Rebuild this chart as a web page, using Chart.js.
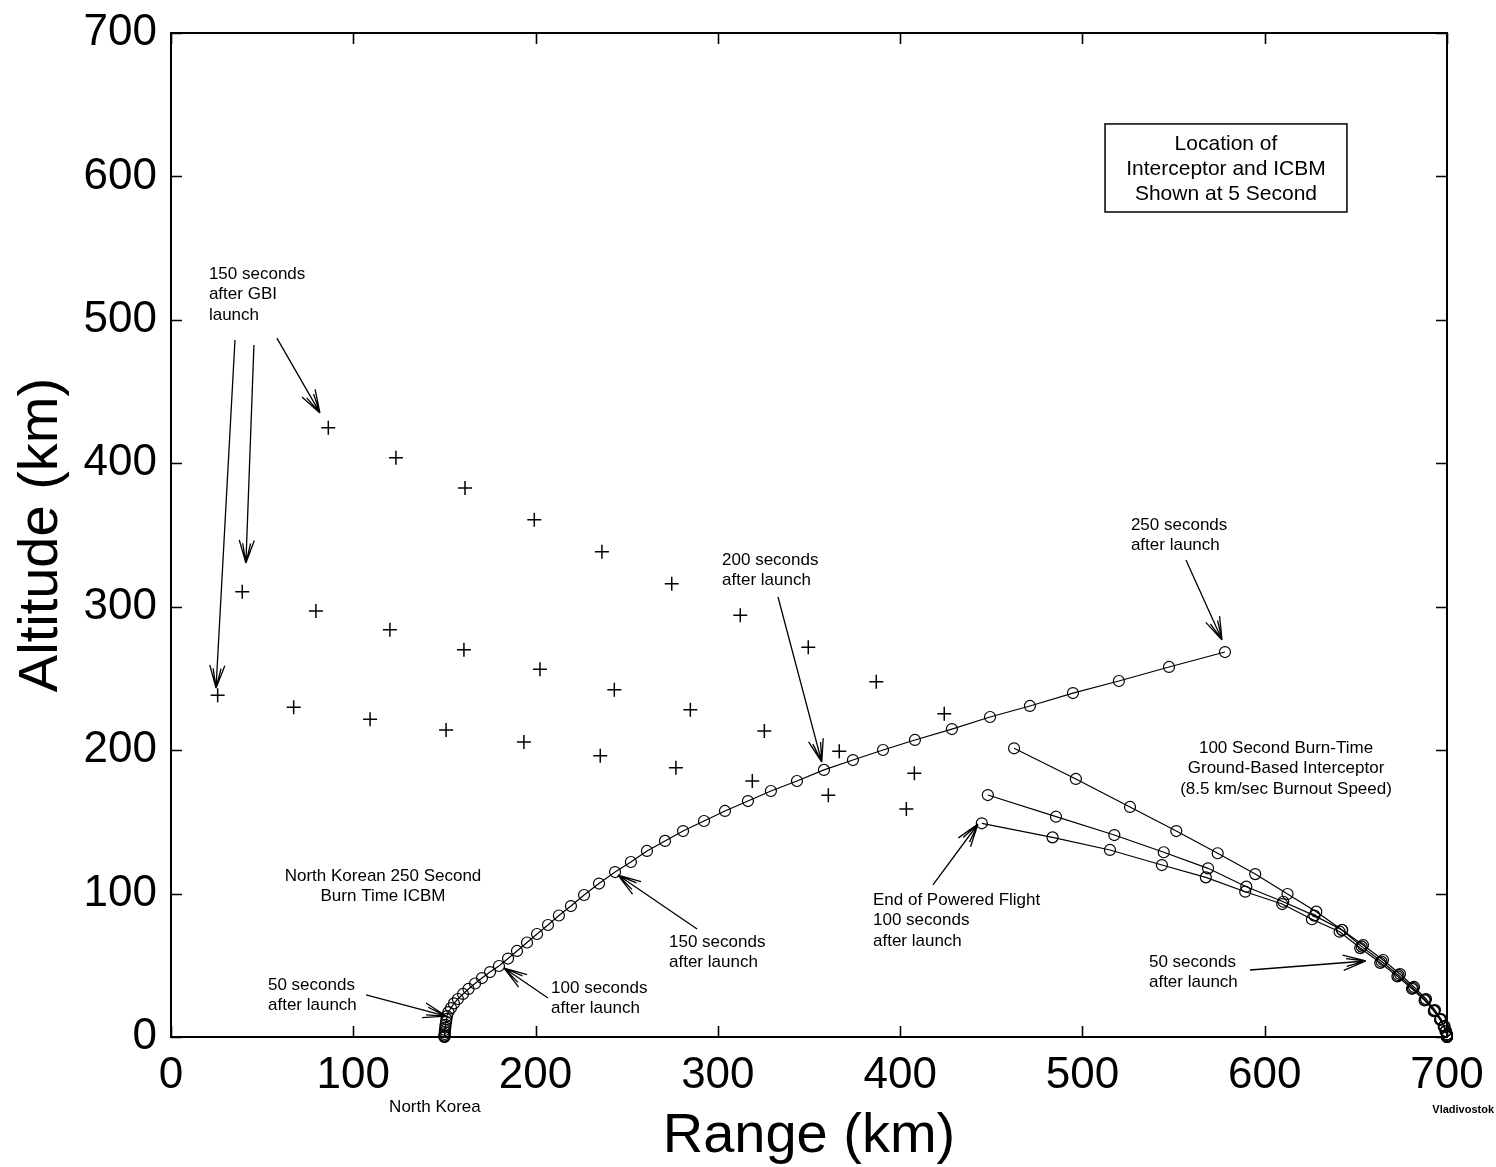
<!DOCTYPE html>
<html>
<head>
<meta charset="utf-8">
<script src="https://cdn.jsdelivr.net/npm/chart.js@4/dist/chart.umd.min.js"></script>
<style>
  html,body{margin:0;padding:0;background:#fff;}
  #wrap{width:1496px;height:1167px;position:relative;}
</style>
</head>
<body>
<div id="wrap"><canvas id="c" width="1496" height="1167"></canvas></div>
<script>
// ---------- DATA ----------
// North Korean ICBM, one point every 5 s from launch (0 s) to burnout (250 s)
const icbmX = [150.0,150.0,150.05,150.1,150.2,150.3,150.5,150.6,150.9,151.1,151.4,
  152.2,153.6,155.2,157.4,160.2,163.2,166.8,170.6,175.0,179.9,
  184.9,189.8,195.3,200.8,206.8,212.8,219.4,226.6,234.8,243.6,
  252.3,261.1,271.0,280.9,292.4,303.9,316.5,329.1,343.4,358.2,
  374.1,390.6,408.1,428.4,449.3,471.2,494.8,520.0,547.5,578.2];
const icbmY = [0,0.3,1.0,2.1,3.5,4.9,6.6,8.4,10.5,12.5,14.6,
  17.4,20.2,23.4,26.5,30.0,33.5,37.3,41.1,45.3,49.5,
  54.7,60.0,65.9,71.8,78.1,84.7,91.3,99.0,107.0,115.0,
  122.0,129.7,136.7,143.6,150.6,157.6,164.5,171.5,178.5,186.2,
  193.1,200.1,207.1,214.7,223.1,230.8,239.8,248.2,258.0,268.4];

// Ground-based interceptors (100 s burn), every 5 s from launch to burnout
const gbi1X = [700.0,700.0,700.0,699.4,698.6,696.7,693.4,688.5,681.9,674.2,664.9,653.9,642.5,628.3,612.5,594.8,574.2,551.5,526.1,496.4,462.5];
const gbi1Y = [0,0.5,1.7,4.2,7.7,12.5,18.8,26.5,34.9,43.9,53.7,64.1,74.6,87.4,99.7,113.6,128.1,143.6,160.4,179.9,201.3];
const gbi2X = [700.0,700.0,700.0,699.3,698.4,696.4,693.0,688.0,681.3,673.4,664.1,653.2,642.4,627.3,610.2,589.9,568.9,544.6,517.5,485.5,448.1];
const gbi2Y = [0,0.5,1.7,4.1,7.5,12.2,18.4,26.0,34.2,43.1,52.6,63.0,74.6,84.6,94.3,104.8,117.6,128.8,140.8,153.6,168.7];
const gbi3X = [700.0,700.0,700.0,699.2,698.2,696.2,692.8,687.7,680.8,672.8,663.4,652.4,641.1,625.9,609.6,589.3,567.7,543.6,515.1,483.6,444.8];
const gbi3Y = [0,0.5,1.6,4.0,7.3,12.0,18.0,25.5,33.6,42.3,51.7,62.0,73.4,82.1,92.7,101.3,111.3,119.9,130.4,139.2,149.0];

// "+" markers: interceptor positions after burnout (three rows)
const plusAX = [86.3,123.4,161.3,199.3,236.4,274.7,312.3,349.6,386.9,424.2];
const plusAY = [424.8,403.9,382.8,360.7,338.4,316.0,294.0,271.7,247.7,225.4];
const plusBX = [39.1,79.5,120.1,160.7,202.4,243.2,284.9,325.5,366.6,407.8];
const plusBY = [310.5,297.0,284.0,270.0,256.4,242.1,228.2,213.3,199.2,183.9];
const plusCX = [25.6,67.3,109.2,150.9,193.6,235.5,277.0,318.9,360.6,403.4];
const plusCY = [238.2,229.9,221.5,214.0,205.7,196.1,187.8,178.5,168.5,159.0];

// axis
const xTicks = [0,100,200,300,400,500,600,700];
const yTicks = [0,100,200,300,400,500,600,700];
const xTitle = 'Range (km)';
const yTitle = 'Altitude (km)';

// annotation texts (anchor in data units)
const noteTexts = [
  {lines:['150 seconds','after GBI','launch'], x:20.8, y:532.0, align:'left'},
  {lines:['250 seconds','after launch'], x:526.6, y:357.0, align:'left'},
  {lines:['200 seconds','after launch'], x:302.3, y:332.6, align:'left'},
  {lines:['100 Second Burn-Time','Ground-Based Interceptor','(8.5 km/sec Burnout Speed)'], x:611.7, y:201.5, align:'center'},
  {lines:['North Korean 250 Second','Burn Time ICBM'], x:116.3, y:112.2, align:'center'},
  {lines:['End of Powered Flight','100 seconds','after launch'], x:385.1, y:95.5, align:'left'},
  {lines:['150 seconds','after launch'], x:273.2, y:66.2, align:'left'},
  {lines:['50 seconds','after launch'], x:536.5, y:52.3, align:'left'},
  {lines:['50 seconds','after launch'], x:53.2, y:36.3, align:'left'},
  {lines:['100 seconds','after launch'], x:208.5, y:34.2, align:'left'},
  {lines:['North Korea'], x:144.8, y:-48.8, align:'center'}
];
const boxText = {lines:['Location of','Interceptor and ICBM','Shown at 5 Second'], x1:512.4, y1:636.6, x2:645.1, y2:575.2};
const placeName = {text:'Vladivostok', x:725.8, y:-50.9};
// arrows: from (x1,y1) to head at (x2,y2), data units
const arrows = [
  {x1:35.1, y1:486.0, x2:24.7, y2:243.3},
  {x1:45.5, y1:482.5, x2:41.1, y2:330.5},
  {x1:58.1, y1:487.3, x2:81.7, y2:435.1},
  {x1:556.8, y1:332.6, x2:576.6, y2:276.8},
  {x1:333.0, y1:306.8, x2:357.0, y2:191.7},
  {x1:418.0, y1:106.0, x2:442.7, y2:148.5},
  {x1:288.6, y1:75.3, x2:245.2, y2:112.9},
  {x1:591.9, y1:46.7, x2:655.5, y2:53.0},
  {x1:107.0, y1:29.3, x2:150.9, y2:14.6},
  {x1:206.8, y1:27.2, x2:182.7, y2:48.1}
];

// ---------- build ----------
const pts = (xs, ys) => xs.map((v, i) => ({x: v, y: ys[i]}));
const SANS = "'Liberation Sans', Arial, Helvetica, sans-serif";

const trajStyle = {
  type:'scatter', showLine:true, borderColor:'#000', borderWidth:1.2,
  pointStyle:'circle', pointRadius:5.5, pointBorderWidth:1.2,
  pointBorderColor:'#000', pointBackgroundColor:'rgba(0,0,0,0)', clip:false
};
const plusStyle = {
  type:'scatter', showLine:false, pointStyle:'cross', pointRadius:7,
  pointBorderWidth:1.5, pointBorderColor:'#000', borderColor:'#000', clip:false
};

const noPad = s => { s.paddingTop = 0; s.paddingBottom = 0; s.paddingLeft = 0; s.paddingRight = 0; };

const overlay = {
  id:'overlay',
  afterDraw(chart){
    const {ctx, chartArea:a, scales:{x, y}} = chart;
    const X = v => x.getPixelForValue(v), Y = v => y.getPixelForValue(v);
    ctx.save();
    // frame
    ctx.strokeStyle = '#000';
    ctx.lineWidth = 2;
    ctx.strokeRect(a.left, a.top, a.right - a.left, a.bottom - a.top);
    // inward ticks on all four sides
    ctx.lineWidth = 1.6;
    ctx.beginPath();
    xTicks.forEach(t => {
      const p = Math.round(X(t)) + 0.5;
      ctx.moveTo(p, a.bottom); ctx.lineTo(p, a.bottom - 11);
      ctx.moveTo(p, a.top); ctx.lineTo(p, a.top + 11);
    });
    yTicks.forEach(t => {
      const p = Math.round(Y(t)) + 0.5;
      ctx.moveTo(a.left, p); ctx.lineTo(a.left + 11, p);
      ctx.moveTo(a.right, p); ctx.lineTo(a.right - 11, p);
    });
    ctx.stroke();

    // texts
    ctx.fillStyle = '#000';
    ctx.textBaseline = 'middle';
    ctx.font = '17px ' + SANS;
    noteTexts.forEach(n => {
      ctx.textAlign = n.align;
      n.lines.forEach((l, i) => ctx.fillText(l, X(n.x), Y(n.y) + i * 20.5));
    });
    // box
    const bx1 = X(boxText.x1), by1 = Y(boxText.y1), bx2 = X(boxText.x2), by2 = Y(boxText.y2);
    ctx.lineWidth = 1.5;
    ctx.strokeRect(bx1, by1, bx2 - bx1, by2 - by1);
    ctx.font = '21px ' + SANS;
    ctx.textAlign = 'center';
    boxText.lines.forEach((l, i) => ctx.fillText(l, (bx1 + bx2) / 2, by1 + 20 + i * 25));
    // place name
    ctx.font = 'bold 11px ' + SANS;
    ctx.textAlign = 'right';
    ctx.fillText(placeName.text, X(placeName.x), Y(placeName.y));

    // arrows
    ctx.lineWidth = 1.3;
    arrows.forEach(ar => {
      const x1 = X(ar.x1), y1 = Y(ar.y1), x2 = X(ar.x2), y2 = Y(ar.y2);
      ctx.beginPath();
      ctx.moveTo(x1, y1); ctx.lineTo(x2, y2);
      const ang = Math.atan2(y2 - y1, x2 - x1);
      [0.32, 0.2].forEach((da, k) => {
        const len = k === 0 ? 24 : 20;
        ctx.moveTo(x2, y2);
        ctx.lineTo(x2 - len * Math.cos(ang - da), y2 - len * Math.sin(ang - da));
        ctx.moveTo(x2, y2);
        ctx.lineTo(x2 - len * Math.cos(ang + da), y2 - len * Math.sin(ang + da));
      });
      ctx.stroke();
    });
    ctx.restore();
  }
};

new Chart(document.getElementById('c'), {
  type:'scatter',
  data:{
    datasets:[
      Object.assign({label:'ICBM', data:pts(icbmX, icbmY)}, trajStyle),
      Object.assign({label:'GBI 1', data:pts(gbi1X, gbi1Y)}, trajStyle),
      Object.assign({label:'GBI 2', data:pts(gbi2X, gbi2Y)}, trajStyle),
      Object.assign({label:'GBI 3', data:pts(gbi3X, gbi3Y)}, trajStyle),
      Object.assign({label:'GBI A', data:pts(plusAX, plusAY)}, plusStyle),
      Object.assign({label:'GBI B', data:pts(plusBX, plusBY)}, plusStyle),
      Object.assign({label:'GBI C', data:pts(plusCX, plusCY)}, plusStyle)
    ]
  },
  options:{
    responsive:false,
    animation:false,
    events:[],
    layout:{padding:{left:0, top:33, right:49, bottom:0}},
    plugins:{legend:{display:false}, tooltip:{enabled:false}},
    scales:{
      x:{
        type:'linear', min:0, max:700,
        afterBuildTicks: s => { s.ticks = xTicks.map(v => ({value:v})); },
        afterFit: s => { s.height = 130; noPad(s); },
        grid:{display:false, drawTicks:false},
        border:{display:false},
        ticks:{color:'#000', padding:12, maxRotation:0, font:{family:SANS, size:44}},
        title:{display:true, text:xTitle, color:'#000', font:{family:SANS, size:56, lineHeight:1}, padding:{top:0, bottom:2}}
      },
      y:{
        type:'linear', min:0, max:700,
        afterBuildTicks: s => { s.ticks = yTicks.map(v => ({value:v})); },
        afterFit: s => { s.width = 171; noPad(s); },
        grid:{display:false, drawTicks:false},
        border:{display:false},
        ticks:{color:'#000', padding:14, font:{family:SANS, size:44}},
        title:{display:true, text:yTitle, color:'#000', font:{family:SANS, size:56, lineHeight:1}, padding:{top:14, bottom:0}}
      }
    }
  },
  plugins:[overlay]
});
</script>
</body>
</html>
